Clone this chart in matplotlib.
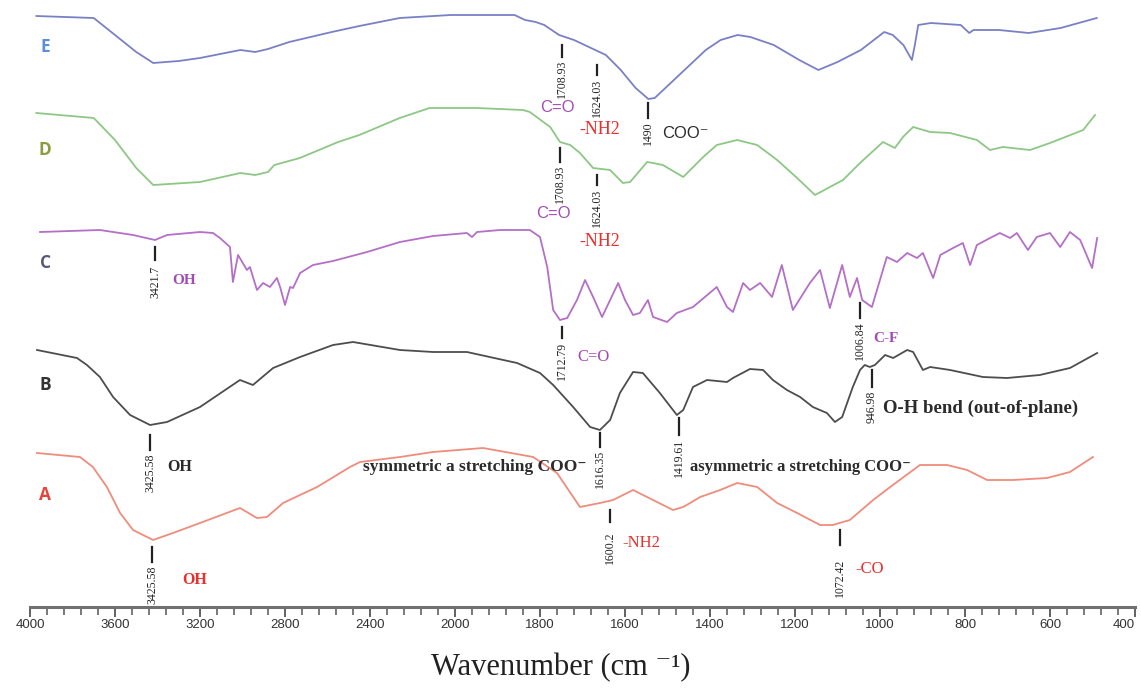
import numpy as np
import matplotlib
matplotlib.use("Agg")
import matplotlib.pyplot as plt
from matplotlib.ticker import FixedLocator, NullFormatter

# FTIR spectra: wavenumber (cm-1) and stacked band depth (a.u., grows downward)
e_wn = [3970, 3700, 3600, 3500, 3420, 3300, 3200, 3010, 2940, 2880, 2780, 2580, 2450, 2260, 2020,
        1890, 1860, 1835, 1810, 1790, 1755, 1720, 1680, 1645, 1610, 1575, 1545, 1530, 1505, 1460,
        1410, 1375, 1335, 1305, 1250, 1210, 1190, 1145, 1100, 1045, 990, 970, 945, 925, 918,
        910, 880, 810, 790, 780, 720, 650, 575, 490]
e_depth = [16, 18, 35, 52, 63, 61, 58, 50, 52, 49, 42, 32, 26, 18, 15,
           15, 15, 20, 22, 25, 35, 40, 48, 55, 70, 88, 99, 98, 88, 70,
           50, 40, 35, 37, 45, 55, 60, 70, 62, 50, 32, 35, 45, 60, 45,
           25, 23, 25, 33, 30, 30, 33, 28, 18]

d_wn = [3970, 3700, 3600, 3500, 3420, 3200, 3010, 2940, 2880, 2850, 2730, 2550, 2450, 2260, 2120,
        1950, 1840, 1824, 1776, 1753, 1729, 1706, 1675, 1635, 1605, 1588, 1548, 1534, 1511, 1463,
        1416, 1384, 1336, 1289, 1242, 1195, 1153, 1087, 1047, 993, 965, 946, 922, 882, 835,
        772, 741, 711, 647, 600, 522, 494]
d_depth = [113, 118, 140, 168, 185, 182, 173, 175, 172, 165, 158, 142, 135, 118, 108,
           108, 110, 112, 127, 142, 145, 153, 168, 170, 183, 182, 162, 163, 165, 177,
           157, 145, 140, 145, 160, 178, 195, 180, 163, 142, 148, 137, 127, 132, 133,
           140, 150, 147, 150, 143, 130, 115]

c_wn = [3953, 3671, 3515, 3412, 3355, 3200, 3139, 3106, 3059, 3045, 3021, 2979, 2965, 2932, 2903,
        2871, 2838, 2823, 2800, 2776, 2762, 2729, 2706, 2668, 2574, 2414, 2259, 2103, 1972, 1960,
        1948, 1894, 1824, 1800, 1783, 1769, 1753, 1736, 1713, 1694, 1675, 1654, 1635, 1616, 1600,
        1581, 1565, 1546, 1534, 1501, 1478, 1440, 1384, 1360, 1346, 1322, 1306, 1282, 1254, 1231,
        1205, 1165, 1141, 1118, 1089, 1071, 1054, 1042, 1019, 984, 960, 936, 913, 899, 875,
        858, 828, 805, 788, 772, 741, 718, 694, 678, 652, 631, 600, 576, 553, 529, 501, 489]
c_depth = [232, 230, 235, 240, 235, 232, 233, 238, 247, 282, 255, 270, 267, 290, 283,
           287, 278, 287, 305, 287, 288, 273, 270, 265, 261, 252, 242, 236, 233, 237,
           232, 230, 230, 237, 267, 310, 320, 318, 300, 280, 297, 317, 300, 283, 300,
           315, 313, 300, 317, 322, 313, 307, 287, 307, 312, 283, 290, 283, 297, 265,
           310, 283, 270, 308, 265, 297, 278, 300, 307, 257, 262, 253, 258, 253, 278,
           255, 248, 243, 265, 245, 238, 233, 238, 233, 250, 237, 233, 247, 232, 240, 268, 238]

b_wn = [3967, 3779, 3732, 3671, 3609, 3529, 3435, 3355, 3200, 3012, 2951, 2856, 2729, 2574, 2480,
        2259, 2103, 1972, 1854, 1800, 1769, 1722, 1682, 1659, 1635, 1612, 1581, 1558, 1518, 1478,
        1463, 1440, 1407, 1360, 1346, 1306, 1275, 1252, 1219, 1188, 1158, 1125, 1106, 1089, 1064,
        1047, 1036, 1024, 1012, 988, 969, 936, 922, 899, 882, 835, 758, 701, 624, 553, 489]
b_depth = [350, 358, 365, 377, 397, 415, 425, 422, 407, 380, 385, 368, 357, 345, 342,
           350, 352, 352, 363, 373, 385, 407, 427, 430, 420, 393, 372, 373, 393, 415,
           410, 387, 380, 382, 378, 369, 370, 380, 390, 397, 407, 413, 422, 417, 387,
           370, 365, 367, 365, 355, 358, 350, 352, 370, 367, 370, 377, 378, 375, 368, 353]

a_wn = [3967, 3765, 3704, 3638, 3576, 3515, 3421, 3327, 3200, 3012, 2932, 2885, 2809, 2649, 2494,
        2447, 2259, 2103, 1934, 1816, 1760, 1706, 1659, 1628, 1581, 1534, 1487, 1463, 1423, 1376,
        1336, 1289, 1242, 1195, 1141, 1111, 1071, 1016, 976, 906, 842, 795, 748, 687, 607, 553, 499]
a_depth = [453, 457, 467, 487, 513, 530, 540, 533, 523, 508, 518, 517, 503, 487, 467,
           462, 457, 452, 448, 457, 473, 507, 503, 500, 490, 500, 510, 507, 497, 490,
           483, 487, 503, 513, 525, 525, 520, 500, 487, 465, 465, 470, 480, 480, 478, 472, 457]

samples = ["E", "D", "C", "B", "A"]

# peak annotations: where the mark sits, the printed value, and the group name
peak_at = [1748, 1666, 1546, 1753, 1666, 3412, 1748, 1047, 3435, 1659, 1473, 1019, 3426, 1635, 1094]
peak_text = ["1708.93", "1624.03", "1490", "1708.93", "1624.03", "3421.7", "1712.79", "1006.84",
             "3425.58", "1616.35", "1419.61", "946.98", "3425.58", "1600.2", "1072.42"]
group_text = ["C=O", "-NH2", "COO⁻", "C=O", "-NH2", "OH", "C=O", "C-F", "OH",
              "symmetric a stretching COO⁻", "asymmetric a stretching COO⁻",
              "O-H bend (out-of-plane)", "OH", "-NH2", "-CO"]

major_ticks = [4000, 3600, 3200, 2800, 2400, 2000, 1800, 1600, 1400, 1200, 1000, 800, 600, 400]


def fwd(w):
    w = np.asarray(w, dtype=float)
    return np.where(w >= 2000, 1600 + (w - 2000) / 2, w - 400)


def inv(u):
    u = np.asarray(u, dtype=float)
    return np.where(u >= 1600, 2000 + 2 * (u - 1600), u + 400)


W, H = 1141, 696
fig = plt.figure(figsize=(W / 100, H / 100), dpi=100)
ax = fig.add_axes([30 / W, (H - 607) / H, 1105 / W, 607 / H])
ax.set_xscale("function", functions=(fwd, inv))
ax.set_xlim(4000, 400)
ax.set_ylim(607, 0)

curve_colors = ["#7a80c6", "#8cc884", "#b46fc6", "#4d4d4d", "#ef8c7c"]
letter_colors = ["#5b8fd8", "#8d9a3e", "#58597a", "#333333", "#e4453a"]
letter_y = [47, 150, 263, 385, 495]
spectra = [(e_wn, e_depth), (d_wn, d_depth), (c_wn, c_depth), (b_wn, b_depth), (a_wn, a_depth)]

for (wn, dep), name, lc, tc, ly in zip(spectra, samples, curve_colors, letter_colors, letter_y):
    ax.plot(wn, dep, color=lc, lw=1.3, solid_joinstyle="round")
    ax.text(3929, ly, name, color=tc, fontsize=12.5, fontweight="bold", ha="center", va="center",
            family=["Open Sans", "DejaVu Sans"])

# annotation layout (line top/bottom, top of the value text, group label place)
mark_y = [(45, 57), (65, 75), (103, 118), (148, 162), (175, 185), (247, 260), (327, 338),
          (303, 318), (435, 450), (433, 447), (418, 435), (370, 387), (547, 562), (510, 522),
          (530, 545)]
num_top = [60, 79, 121, 165, 189, 266, 342, 321, 454, 450, 439, 391, 566, 531, 559]
purple, red, dark = "#a24db4", "#e8302c", "#2b2b2b"
serif = ["Liberation Serif", "DejaVu Serif"]
sans = ["Liberation Sans", "DejaVu Sans"]
labels = [
    (1758, 107, "center", purple, sans, "normal", 12),
    (1659, 130, "center", red, serif, "normal", 13),
    (1513, 133, "left", dark, sans, "normal", 12),
    (1769, 214, "center", purple, sans, "normal", 12),
    (1659, 242, "center", red, serif, "normal", 13),
    (3332, 281, "left", purple, serif, "bold", 11),
    (1713, 357, "left", purple, serif, "normal", 12),
    (1016, 338, "left", purple, serif, "bold", 11),
    (3355, 467, "left", dark, serif, "bold", 11.5),
    (1690, 467, "right", dark, serif, "bold", 12.5),
    (1447, 467, "left", dark, serif, "bold", 12),
    (993, 408, "left", dark, serif, "bold", 13.5),
    (3285, 580, "left", red, serif, "bold", 11.5),
    (1607, 543, "left", red, serif, "normal", 12),
    (1059, 569, "left", red, serif, "normal", 12),
]

for w, (y1, y2), top, num, grp, (lw_, ly_, ha, col, fam, wt, fs) in zip(
        peak_at, mark_y, num_top, peak_text, group_text, labels):
    ax.plot([w, w], [y1, y2], color="#222222", lw=1.6)
    ax.text(w, top, num, rotation=90, ha="center", va="top", fontsize=8.5, color="#222222",
            family=serif)
    ax.text(lw_, ly_, grp, ha=ha, va="center", color=col, fontsize=fs, fontweight=wt, family=fam)

for s in ["top", "right", "left"]:
    ax.spines[s].set_visible(False)
ax.spines["bottom"].set_color("#707070")
ax.spines["bottom"].set_linewidth(2.2)
ax.set_yticks([])

minor = [w for w in list(range(4000, 2000, -80)) + list(range(2000, 399, -40)) if w not in major_ticks]
ax.xaxis.set_major_locator(FixedLocator(major_ticks))
ax.xaxis.set_minor_locator(FixedLocator(minor))
ax.xaxis.set_minor_formatter(NullFormatter())
ax.set_xticklabels([str(t) for t in major_ticks])
ax.tick_params(axis="x", which="major", length=7, width=1.3, color="#555555", pad=2, labelsize=9.5,
               labelcolor="#333333")
ax.tick_params(axis="x", which="minor", length=6, width=1.1, color="#555555")
for lab in ax.get_xticklabels():
    lab.set_family(sans)
ax.get_xticklabels()[-1].set_horizontalalignment("right")

ax.set_xlabel("Wavenumber (cm ⁻¹)", family=serif, fontsize=22, color="#222222")
ax.xaxis.set_label_coords(0.48, -0.075)

fig.savefig("out.png", dpi=100)
